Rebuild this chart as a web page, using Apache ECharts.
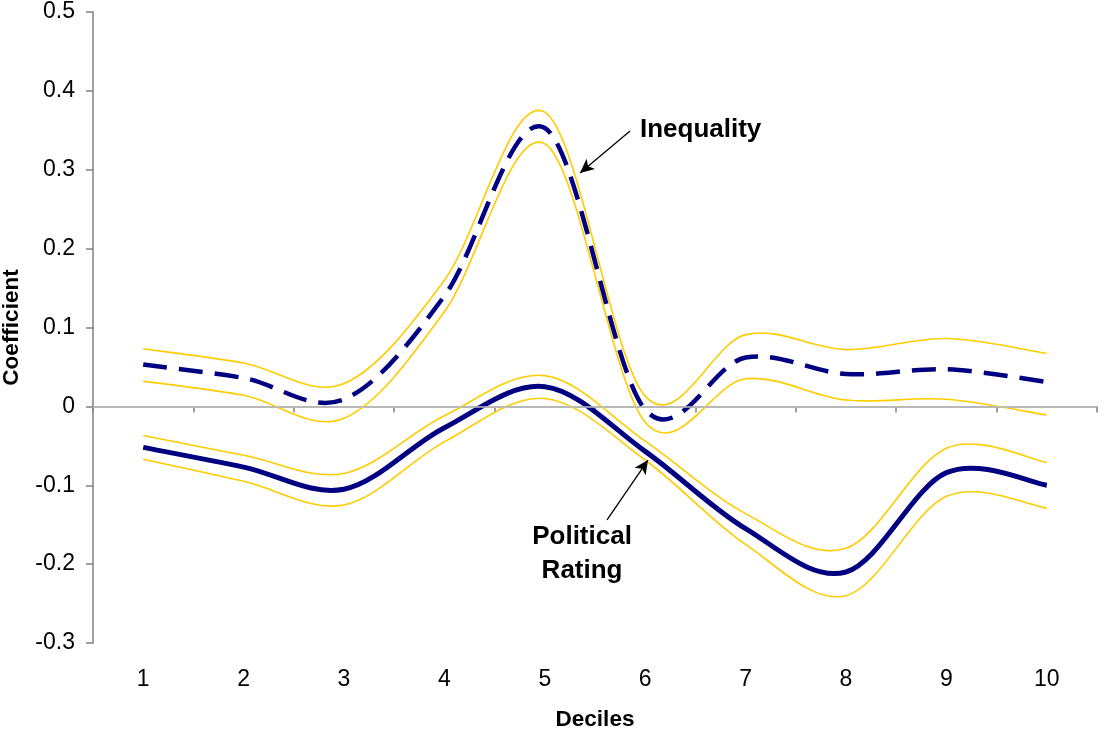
<!DOCTYPE html>
<html>
<head>
<meta charset="utf-8">
<script src="https://cdn.jsdelivr.net/npm/echarts@6/dist/echarts.min.js"></script>
<style>
html,body{margin:0;padding:0;background:#fff;}
#chart{width:1099px;height:730px;}
</style>
</head>
<body>
<div id="chart"></div>
<script>
// ---- Data ----
const deciles = ['1','2','3','4','5','6','7','8','9','10'];
const inequality      = [0.053, 0.036, 0.009, 0.140, 0.353, -0.004, 0.062, 0.041, 0.047, 0.031];
const inequalityUpper = [0.073, 0.055, 0.029, 0.160, 0.373, 0.013, 0.091, 0.072, 0.086, 0.067];
const inequalityLower = [0.032, 0.014, -0.015, 0.120, 0.333, -0.020, 0.035, 0.008, 0.009, -0.011];
const political      = [-0.052, -0.077, -0.105, -0.027, 0.025, -0.057, -0.155, -0.210, -0.084, -0.100];
const politicalUpper = [-0.037, -0.062, -0.085, -0.012, 0.039, -0.044, -0.136, -0.180, -0.053, -0.071];
const politicalLower = [-0.067, -0.095, -0.125, -0.045, 0.010, -0.068, -0.175, -0.240, -0.114, -0.129];
const yTicks = [-0.3, 0.5, 0.1]; // min, max, step
// annotation anchors in data space [x, y]
const ineqArrow = [[5.849, 0.349], [5.351, 0.296]];
const ineqLabel = [5.948, 0.350];
const polArrow = [[5.62, -0.144], [6.028, -0.068]];
const polLabel = [5.371, -0.187];

const toPairs = arr => arr.map((v, i) => [i + 1, v]);
const NAVY = '#000080', GOLD = '#FFCC00';

// Catmull-Rom style smoothing (like the spreadsheet's smoothed lines), via the axis scales
function smoothPathData(arr, api) {
  const p = arr.map((v, i) => api.coord([i + 1, v]));
  const n = p.length;
  let d = 'M' + p[0][0] + ' ' + p[0][1];
  for (let i = 0; i < n - 1; i++) {
    const p0 = p[Math.max(i - 1, 0)], p1 = p[i], p2 = p[i + 1], p3 = p[Math.min(i + 2, n - 1)];
    const c1x = p1[0] + (p2[0] - p0[0]) / 6, c1y = p1[1] + (p2[1] - p0[1]) / 6;
    const c2x = p2[0] - (p3[0] - p1[0]) / 6, c2y = p2[1] - (p3[1] - p1[1]) / 6;
    d += ' C' + c1x + ' ' + c1y + ' ' + c2x + ' ' + c2y + ' ' + p2[0] + ' ' + p2[1];
  }
  return d;
}

function curve(name, arr, style, z) {
  return {
    name, type: 'custom', xAxisIndex: 1, data: toPairs(arr), z, silent: true,
    clip: false,
    renderItem: (params, api) => {
      if (params.dataIndex !== 0) return null;
      return {
        type: 'path',
        shape: { pathData: smoothPathData(arr, api) },
        style: Object.assign({ fill: null }, style)
      };
    }
  };
}

const chart = echarts.init(document.getElementById('chart'));
chart.setOption({
  animation: false,
  backgroundColor: '#fff',
  textStyle: { fontFamily: 'Liberation Sans, Arial, sans-serif' },
  grid: { left: 93, right: 2, top: 12, bottom: 87, containLabel: false, outerBoundsMode: 'none' },
  xAxis: [
    {
      type: 'category', data: deciles, boundaryGap: true,
      name: 'Deciles', nameLocation: 'middle', nameGap: 65,
      nameTextStyle: { fontSize: 22.5, fontWeight: 'bold', color: '#000' },
      axisLine: { lineStyle: { color: '#808080', width: 1.5 } },
      axisTick: { show: true, length: 6, interval: 0, lineStyle: { color: '#808080', width: 1.5 } },
      axisLabel: { fontSize: 23, color: '#000', margin: 25, interval: 0 },
      splitLine: { show: false }
    },
    { type: 'value', min: 0.5, max: 10.5, show: false }
  ],
  yAxis: {
    type: 'value', min: yTicks[0], max: yTicks[1], interval: yTicks[2],
    name: 'Coefficient', nameLocation: 'middle', nameGap: 70,
    nameTextStyle: { fontSize: 22.5, fontWeight: 'bold', color: '#000' },
    axisLine: { show: true, lineStyle: { color: '#808080', width: 1.5 } },
    axisTick: { show: true, length: 7, lineStyle: { color: '#808080', width: 1.5 } },
    axisLabel: { fontSize: 23, color: '#000', margin: 18,
      formatter: v => { const r = Math.round(v * 10) / 10; return r === 0 ? '0' : String(r); } },
    splitLine: { show: false }
  },
  series: [
    {
      name: 'zero', type: 'line', xAxisIndex: 1, data: [], z: 1, silent: true,
      markLine: { silent: true, symbol: 'none', label: { show: false },
        lineStyle: { color: '#c0c0c0', width: 1.6, type: 'solid' },
        data: [{ yAxis: 0 }] }
    },
    curve('Inequality upper', inequalityUpper, { stroke: GOLD, lineWidth: 1.6 }, 3),
    curve('Inequality lower', inequalityLower, { stroke: GOLD, lineWidth: 1.6 }, 3),
    curve('Political upper', politicalUpper, { stroke: GOLD, lineWidth: 1.6 }, 3),
    curve('Political lower', politicalLower, { stroke: GOLD, lineWidth: 1.6 }, 3),
    curve('Inequality', inequality, { stroke: NAVY, lineWidth: 4.5, lineDash: [24, 12], lineCap: 'butt' }, 4),
    curve('Political Rating', political, { stroke: NAVY, lineWidth: 5 }, 4),
    {
      name: 'annotations', type: 'line', xAxisIndex: 1, data: [], z: 5, silent: true,
      markLine: { silent: true, symbol: ['none', 'arrow'], symbolSize: [10, 14],
        label: { show: false }, lineStyle: { color: '#000', width: 1.3, type: 'solid' },
        data: [
          [{ coord: ineqArrow[0] }, { coord: ineqArrow[1] }],
          [{ coord: polArrow[0] }, { coord: polArrow[1] }]
        ] },
      markPoint: { silent: true, symbol: 'circle', symbolSize: 0,
        data: [
          { coord: ineqLabel, label: { show: true, position: 'right', distance: 0,
            formatter: 'Inequality', fontSize: 26, fontWeight: 'bold', color: '#000' } },
          { coord: polLabel, label: { show: true, position: 'inside',
            formatter: 'Political\nRating', fontSize: 26, fontWeight: 'bold', color: '#000',
            lineHeight: 34, align: 'center' } }
        ] }
    }
  ]
});
</script>
</body>
</html>
